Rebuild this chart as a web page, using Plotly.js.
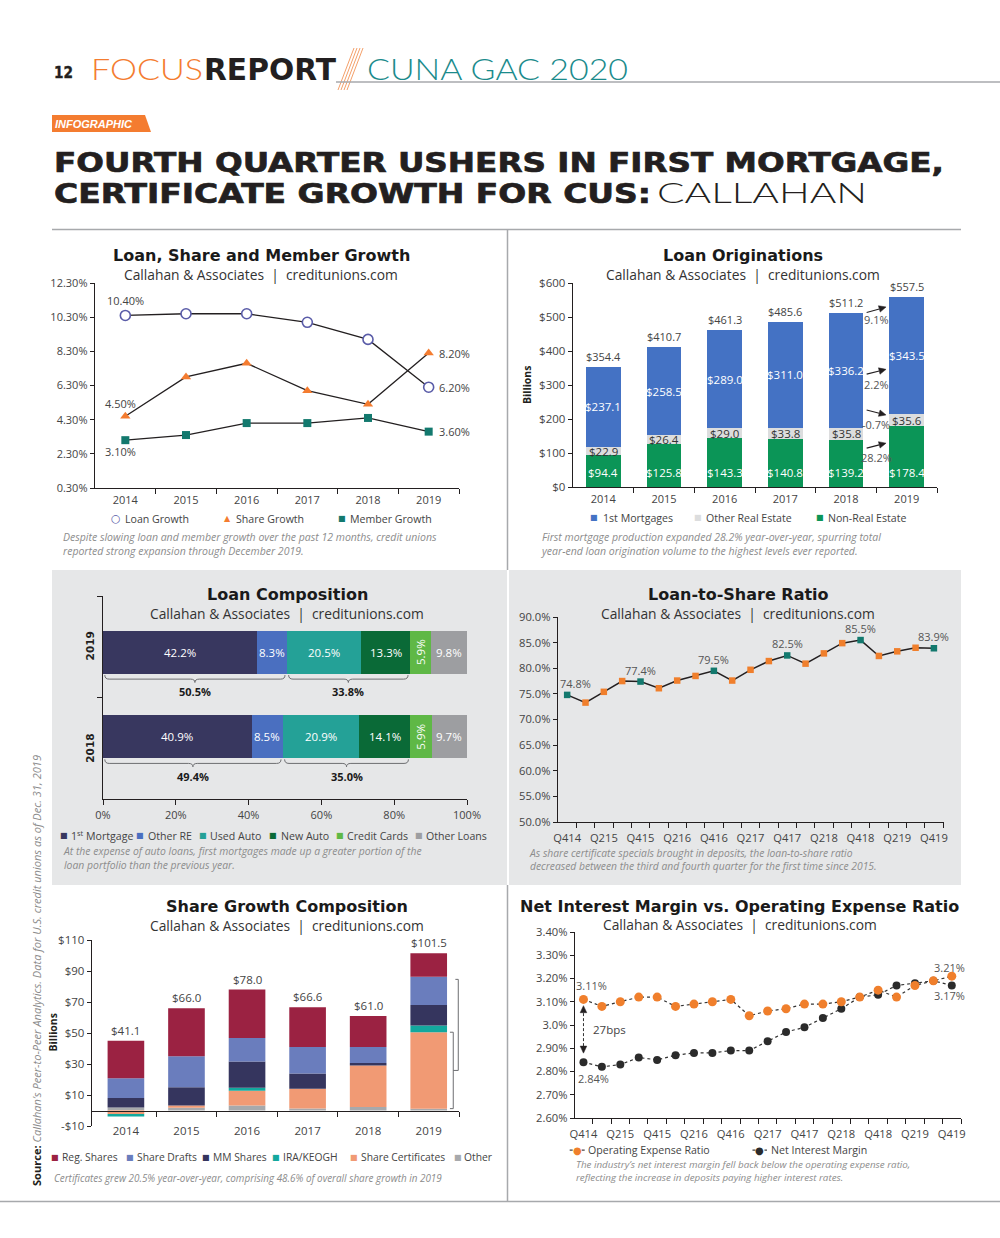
<!DOCTYPE html>
<html>
<head>
<meta charset="utf-8">
<script src="https://cdn.plot.ly/plotly-3.0.1.min.js"></script>
<style>
html,body{margin:0;padding:0;background:#fff;}
body{width:1000px;height:1238px;position:relative;overflow:hidden;}
.chart{position:absolute;}
#row2{position:absolute;left:52px;top:570px;width:909px;height:315px;background:#e6e7e8;}
#row2gap{position:absolute;left:507px;top:570px;width:2px;height:315px;background:#fff;}
#deco{position:absolute;left:0;top:0;}
</style>
</head>
<body>
<div id="row2"></div><div id="row2gap"></div>
<svg id="deco" width="1000" height="1238">
 <text x="54" y="78.3" font-family="DejaVu Sans" font-weight="bold" font-size="15.5" fill="#231f20" stroke="#231f20" stroke-width="0.4" textLength="19" lengthAdjust="spacingAndGlyphs">12</text>
 <text x="91" y="80" font-family="Lato" font-weight="300" font-size="30" fill="#f47c30" textLength="112" lengthAdjust="spacingAndGlyphs">FOCUS</text>
 <text x="204" y="80" font-family="DejaVu Sans" font-weight="bold" font-size="30" fill="#231f20" textLength="132" lengthAdjust="spacingAndGlyphs">REPORT</text>
 <g stroke="#f4a06a" stroke-width="1">
  <line x1="338" y1="90" x2="354" y2="48"/>
  <line x1="341" y1="90" x2="357" y2="48"/>
  <line x1="344" y1="90" x2="360" y2="48"/>
  <line x1="347" y1="90" x2="363" y2="48"/>
 </g>
 <text x="367" y="80" font-family="Lato" font-weight="300" font-size="30" fill="#1b8b8c" textLength="261" lengthAdjust="spacingAndGlyphs">CUNA GAC 2020</text>
 <line x1="336" y1="82" x2="1000" y2="82" stroke="#a7a9ac" stroke-width="1.5"/>
 <polygon points="52,115 145,115 151,132 52,132" fill="#f47c30"/>
 <text x="55" y="128" font-family="Liberation Sans" font-weight="bold" font-style="italic" font-size="11.5" fill="#fff" textLength="77" lengthAdjust="spacingAndGlyphs">INFOGRAPHIC</text>
 <text x="54" y="172" font-family="DejaVu Sans" font-weight="bold" font-size="26.5" fill="#231f20" stroke="#231f20" stroke-width="0.7" textLength="890" lengthAdjust="spacingAndGlyphs">FOURTH QUARTER USHERS IN FIRST MORTGAGE,</text>
 <text x="54" y="203" font-family="DejaVu Sans" font-weight="bold" font-size="26.5" fill="#231f20" stroke="#231f20" stroke-width="0.7" textLength="597" lengthAdjust="spacingAndGlyphs">CERTIFICATE GROWTH FOR CUS:</text>
 <text x="657" y="203" font-family="Lato" font-weight="300" font-size="27.5" fill="#231f20" textLength="210" lengthAdjust="spacingAndGlyphs">CALLAHAN</text>
 <line x1="52" y1="229.5" x2="961" y2="229.5" stroke="#a7a9ac" stroke-width="1.5"/>
 <line x1="507.5" y1="229.5" x2="507.5" y2="570" stroke="#a7a9ac" stroke-width="1.5"/>
 <line x1="507.5" y1="885" x2="507.5" y2="1201" stroke="#a7a9ac" stroke-width="1.5"/>
 <line x1="0" y1="1201.5" x2="1000" y2="1201.5" stroke="#a7a9ac" stroke-width="1.5"/>
 <text transform="translate(41,1186) rotate(-90)" font-family="Open Sans" font-size="10.5" font-style="italic" fill="#8a8a8a" textLength="431" lengthAdjust="spacingAndGlyphs"><tspan font-weight="bold" font-style="normal" fill="#231f20">Source:</tspan> Callahan’s Peer-to-Peer Analytics. Data for U.S. credit unions as of Dec. 31, 2019</text>
</svg>
<div id="c1" class="chart"></div>
<div id="c2" class="chart"></div>
<div id="c3" class="chart"></div>
<div id="c4" class="chart"></div>
<div id="c5" class="chart"></div>
<div id="c6" class="chart"></div>
<script>
// ================= DATA =================
const years = ['2014','2015','2016','2017','2018','2019'];

// Loan, Share and Member Growth (%)
const loanGrowth   = [10.4, 10.5, 10.5, 10.0, 9.0, 6.2];
const shareGrowth  = [4.5, 6.8, 7.6, 6.0, 5.2, 8.2];
const memberGrowth = [3.1, 3.4, 4.1, 4.1, 4.4, 3.6];
const growthTicks  = [0.3, 2.3, 4.3, 6.3, 8.3, 10.3, 12.3];

// Loan Originations ($B)
const firstMortgages    = [237.1, 258.5, 289.0, 311.0, 336.2, 343.5];
const otherRealEstate   = [22.9, 26.4, 29.0, 33.8, 35.8, 35.6];
const nonRealEstate     = [94.4, 125.8, 143.3, 140.8, 139.2, 178.4];
const originationTotals = [354.4, 410.7, 461.3, 485.6, 511.2, 557.5];
const originationTicks  = [0, 100, 200, 300, 400, 500, 600];
const originationChanges = ['9.1%', '2.2%', '-0.7%', '28.2%'];

// Loan Composition (%)
const compYears      = ['2019', '2018'];
const compCategories = ['1<sup>st</sup> Mortgage', 'Other RE', 'Used Auto', 'New Auto', 'Credit Cards', 'Other Loans'];
const comp2019       = [42.2, 8.3, 20.5, 13.3, 5.9, 9.8];
const comp2018       = [40.9, 8.5, 20.9, 14.1, 5.9, 9.7];
const compGroups2019 = [50.5, 33.8];
const compGroups2018 = [49.4, 35.0];
const compTicks      = [0, 20, 40, 60, 80, 100];

// Loan-to-Share Ratio (%)
const quarters = ['Q414','Q115','Q215','Q315','Q415','Q116','Q216','Q316','Q416','Q117','Q217','Q317','Q417','Q118','Q218','Q318','Q418','Q119','Q219','Q319','Q419'];
const loanToShare = [74.8, 73.3, 75.4, 77.5, 77.4, 76.1, 77.6, 78.5, 79.5, 77.6, 79.7, 81.4, 82.5, 80.9, 82.9, 84.9, 85.5, 82.4, 83.3, 84.0, 83.9];
const ltsTicks = [50, 55, 60, 65, 70, 75, 80, 85, 90];

// Share Growth Composition ($B)
const regShares         = [24.2, 31.0, 31.3, 25.7, 20.1, 15.2];
const shareDrafts       = [12.7, 20.0, 15.1, 17.0, 10.3, 18.3];
const mmShares          = [6.2, 11.8, 17.0, 9.9, 1.5, 13.2];
const iraKeogh          = [-1.7, 0.0, 1.9, 0.0, 0.0, 4.3];
const shareCertificates = [-2.2, 1.5, 9.5, 12.7, 26.9, 49.3];
const otherShares       = [1.9, 1.7, 3.2, 1.3, 2.2, 1.2];
const shareTotals       = [41.1, 66.0, 78.0, 66.6, 61.0, 101.5];
const shareTicks        = [-10, 10, 30, 50, 70, 90, 110];

// Net Interest Margin vs Operating Expense Ratio (%)
const operatingExpenseRatio = [3.11, 3.08, 3.10, 3.12, 3.12, 3.08, 3.09, 3.10, 3.11, 3.04, 3.06, 3.07, 3.09, 3.09, 3.10, 3.12, 3.15, 3.12, 3.17, 3.19, 3.21];
const netInterestMargin     = [2.84, 2.82, 2.83, 2.86, 2.85, 2.87, 2.88, 2.88, 2.89, 2.89, 2.93, 2.97, 2.99, 3.03, 3.07, 3.12, 3.13, 3.17, 3.18, 3.19, 3.17];
const nimTicks    = [2.6, 2.7, 2.8, 2.9, 3.0, 3.1, 3.2, 3.3, 3.4];
const nimTickText = ['2.60%', '2.70%', '2.80%', '2.90%', '3.0%', '3.10%', '3.20%', '3.30%', '3.40%'];

// ================= HELPERS =================
const FONT  = "Open Sans, DejaVu Sans, sans-serif";
const TFONT = "DejaVu Sans, sans-serif";
const INK = '#231f20';
const CAP = '#8c8c8c';
const f = (size, color, family) => ({family: family || FONT, size: size, color: color || '#444'});

function setup(id, box, plot) {
  const el = document.getElementById(id);
  el.style.left = box.l + 'px'; el.style.top = box.t + 'px';
  el.style.width = box.w + 'px'; el.style.height = box.h + 'px';
  const px = x => (x - plot.l) / (plot.r - plot.l);
  const py = y => (plot.b - y) / (plot.b - plot.t);
  const layout = {
    width: box.w, height: box.h, autosize: false,
    margin: {l: plot.l - box.l, r: box.l + box.w - plot.r, t: plot.t - box.t, b: box.t + box.h - plot.b, pad: 0},
    paper_bgcolor: 'rgba(0,0,0,0)', plot_bgcolor: 'rgba(0,0,0,0)',
    showlegend: false, font: f(11), annotations: [], shapes: [], hovermode: false
  };
  const A = (text, x, y, o) => layout.annotations.push(Object.assign({xref: 'paper', yref: 'paper', x: px(x), y: py(y), text: text, showarrow: false, xanchor: 'center', yanchor: 'middle'}, o || {}));
  const D = (o) => layout.annotations.push(Object.assign({xref: 'x', yref: 'y', showarrow: false, xanchor: 'center', yanchor: 'middle'}, o));
  return {el, layout, A, D, px, py};
}
// arrow drawn as shapes in data coords; sx, sy = pixels per data unit
function arrowHead(L, x0, y0, x1, y1, sx, sy, color) {
  const dx = (x1 - x0) * sx, dy = (y1 - y0) * sy, len = Math.hypot(dx, dy);
  const ux = dx / len, uy = dy / len, hl = 7, hw = 3.3;
  const bx = -ux * hl, by = -uy * hl, nx = -uy * hw, ny = ux * hw;
  const p1x = x1 + (bx + nx) / sx, p1y = y1 + (by + ny) / sy;
  const p2x = x1 + (bx - nx) / sx, p2y = y1 + (by - ny) / sy;
  L.shapes.push({type: 'path', xref: 'x', yref: 'y', path: `M ${x1},${y1} L ${p1x},${p1y} L ${p2x},${p2y} Z`, fillcolor: color, line: {color: color, width: 0.5}});
  return [x1 + bx / sx, y1 + by / sy];
}
function arrow(L, x0, y0, x1, y1, sx, sy, color) {
  const e = arrowHead(L, x0, y0, x1, y1, sx, sy, color);
  L.shapes.push({type: 'path', xref: 'x', yref: 'y', path: `M ${x0},${y0} L ${e[0]},${e[1]}`, line: {color: color, width: 1.1}});
}
const axBase = () => ({showline: true, linecolor: INK, linewidth: 1.3, showgrid: false, zeroline: false,
  ticks: 'outside', ticklen: 4, tickcolor: INK, tickwidth: 1, tickfont: f(11, '#444'), fixedrange: true});
const minorB = (n) => ({tickmode: 'array', tickvals: Array.from({length: n}, (_, i) => i + 0.5), ticks: 'outside', ticklen: 5, tickcolor: INK, tickwidth: 1, showgrid: false});
function titles(c, title, sub, x, y1, y2) {
  c.A('<b>' + title + '</b>', x, y1, {font: f(16, '#1a1a1a', TFONT)});
  c.A(sub, x, y2, {font: f(13.8, '#333')});
}
function legendItem(c, sym, symColor, name, sx, tx, y, size) {
  c.A(sym, sx, y, {font: f(size || 8, symColor, TFONT)});
  c.A(name, tx, y, {xanchor: 'left', font: f(10.6, '#444')});
}
function caption(c, text, x, y, size) {
  c.A('<i>' + text + '</i>', x, y, {xanchor: 'left', align: 'left', font: f(size || 10.5, CAP)});
}
const cfg = {staticPlot: true, displayModeBar: false};
const SUB = 'Callahan &amp; Associates  |  creditunions.com';

// ================= CHART 1 =================
(function () {
  const c = setup('c1', {l: 40, t: 235, w: 468, h: 330}, {l: 95.3, r: 459.3, t: 282.7, b: 487.7});
  const L = c.layout, xi = years.map((_, i) => i);
  L.xaxis = Object.assign(axBase(), {range: [-0.5, 5.5], tickmode: 'array', tickvals: xi, ticktext: years, ticks: 'outside', ticklen: 1, tickcolor: 'rgba(0,0,0,0)', minor: minorB(6)});
  L.yaxis = Object.assign(axBase(), {range: [0.3, 12.3], tickmode: 'array', tickvals: growthTicks, ticktext: growthTicks.map(v => v.toFixed(2) + '%')});
  const ln = {color: INK, width: 1.3};
  const traces = [
    {x: xi, y: loanGrowth, mode: 'lines+markers', line: ln, cliponaxis: false, marker: {symbol: 'circle', size: 10, color: '#fff', line: {color: '#5a5ca8', width: 1.6}}},
    {x: xi, y: shareGrowth, mode: 'lines+markers', line: ln, cliponaxis: false, marker: {symbol: 'triangle-up', size: 9, color: '#f47c30'}},
    {x: xi, y: memberGrowth, mode: 'lines+markers', line: ln, cliponaxis: false, marker: {symbol: 'square', size: 8, color: '#13796e'}}
  ];
  titles(c, 'Loan, Share and Member Growth', SUB, 261.5, 255, 274.5);
  const pf = v => v.toFixed(2) + '%';
  const lf = f(11, '#444');
  c.D({x: 0, y: loanGrowth[0], text: pf(loanGrowth[0]), yshift: 15, font: lf});
  c.D({x: 0, y: shareGrowth[0], text: pf(shareGrowth[0]), yshift: 13, xshift: -5, font: lf});
  c.D({x: 0, y: memberGrowth[0], text: pf(memberGrowth[0]), yshift: -11, xshift: -5, font: lf});
  c.D({x: 5, y: shareGrowth[5], text: pf(shareGrowth[5]), xanchor: 'left', xshift: 8, font: lf});
  c.D({x: 5, y: loanGrowth[5], text: pf(loanGrowth[5]), xanchor: 'left', xshift: 8, font: lf});
  c.D({x: 5, y: memberGrowth[5], text: pf(memberGrowth[5]), xanchor: 'left', xshift: 8, font: lf});
  legendItem(c, '○', '#5a5ca8', 'Loan Growth', 116, 123, 518.3, 11);
  legendItem(c, '▲', '#f47c30', 'Share Growth', 228, 234, 518.3, 8);
  legendItem(c, '■', '#13796e', 'Member Growth', 342.5, 348.3, 518.3, 8);
  caption(c, 'Despite slowing loan and member growth over the past 12 months, credit unions<br>reported strong expansion through December 2019.', 61, 544, 10.5);
  Plotly.newPlot(c.el, traces, L, cfg);
})();

// ================= CHART 2 =================
(function () {
  const c = setup('c2', {l: 508, t: 235, w: 454, h: 330}, {l: 573, r: 937, t: 282.7, b: 487.3});
  const L = c.layout, xi = years.map((_, i) => i);
  L.barmode = 'stack';
  L.xaxis = Object.assign(axBase(), {range: [-0.5, 5.5], tickmode: 'array', tickvals: xi, ticktext: years, ticks: 'outside', ticklen: 1, tickcolor: 'rgba(0,0,0,0)', minor: minorB(6)});
  L.yaxis = Object.assign(axBase(), {range: [0, 600], tickmode: 'array', tickvals: originationTicks, ticktext: originationTicks.map(v => '$' + v), tickfont: f(11.5, '#444')});
  const W = 0.57;
  const traces = [
    {type: 'bar', x: xi, y: nonRealEstate, width: W, marker: {color: '#0b9557'}, name: 'Non-Real Estate'},
    {type: 'bar', x: xi, y: otherRealEstate, width: W, marker: {color: '#dcddde'}, name: 'Other Real Estate'},
    {type: 'bar', x: xi, y: firstMortgages, width: W, marker: {color: '#4472c4'}, name: '1st Mortgages'}
  ];
  titles(c, 'Loan Originations', SUB, 742.8, 255.5, 274.5);
  c.A('<b>Billions</b>', 527, 385, {textangle: -90, font: f(10.5, INK)});
  xi.forEach(i => {
    const g = nonRealEstate[i], o = otherRealEstate[i], b = firstMortgages[i];
    c.D({x: i, y: g + o + b / 2, text: '$' + b.toFixed(1), font: f(11.5, '#fff')});
    c.D({x: i, y: g + o / 2, text: '$' + o.toFixed(1), font: f(11.5, '#333')});
    c.D({x: i, y: 0, yanchor: 'bottom', yshift: 5, text: '$' + g.toFixed(1), font: f(11.5, '#fff')});
    c.D({x: i, y: originationTotals[i], yanchor: 'bottom', yshift: 1, text: '$' + originationTotals[i].toFixed(1), font: f(11, '#444')});
  });
  // year-over-year change arrows (2018 -> 2019)
  const sx = 364 / 6, sy = 204.6 / 600;
  const arr = [[513, 529.5, 492.6], [332, 346, 302], [226.6, 212, 184.7], [114.3, 129, 86.8]];
  arr.forEach((a, k) => {
    arrow(L, 4.34, a[0], 4.66, a[1], sx, sy, INK);
    c.D({x: 4.5, y: a[2], text: originationChanges[k], font: f(11, '#555')});
  });
  legendItem(c, '■', '#4472c4', '1st Mortgages', 594, 600.7, 518.3);
  legendItem(c, '■', '#dcddde', 'Other Real Estate', 697.5, 704, 518.3);
  legendItem(c, '■', '#0b9557', 'Non-Real Estate', 820, 826, 518.3);
  caption(c, 'First mortgage production expanded 28.2% year-over-year, spurring total<br>year-end loan origination volume to the highest levels ever reported.', 538, 544, 10.5);
  Plotly.newPlot(c.el, traces, L, cfg);
})();

// ================= CHART 3 =================
(function () {
  const c = setup('c3', {l: 52, t: 570, w: 455, h: 315}, {l: 103.3, r: 466.7, t: 596, b: 799});
  const L = c.layout;
  L.barmode = 'stack';
  L.xaxis = Object.assign(axBase(), {range: [0, 100], tickmode: 'array', tickvals: compTicks, ticktext: compTicks.map(v => v + '%'), ticklen: 5});
  L.yaxis = Object.assign(axBase(), {range: [-0.739, 1.669], tickmode: 'array', tickvals: [], ticks: '', showticklabels: false,
    minor: {tickmode: 'array', tickvals: [0.463, 1.665], ticks: 'outside', ticklen: 5, tickcolor: INK, tickwidth: 1, showgrid: false}});
  const colors = ['#38375f', '#4a6fc0', '#24a197', '#0a6a37', '#5fb846', '#9d9ea1'];
  const yv = [1, 0], BW = 0.514;
  const traces = compCategories.map((name, k) => ({type: 'bar', orientation: 'h', y: yv, x: [comp2019[k], comp2018[k]], width: BW, marker: {color: colors[k]}, name: name}));
  titles(c, 'Loan Composition', SUB, 287.4, 594.3, 613.3);
  [comp2019, comp2018].forEach((vals, r) => {
    let cum = 0;
    vals.forEach((v, k) => {
      const o = {x: cum + v / 2, y: yv[r], text: v.toFixed(1) + '%', font: f(11.5, '#fff')};
      if (k === 4) o.textangle = -90;
      c.D(o); cum += v;
    });
    c.D({x: 0, y: yv[r], xshift: -13, yshift: r === 0 ? 6 : -12, text: '<b>' + compYears[r] + '</b>', textangle: -90, font: f(10.5, INK, TFONT)});
  });
  function brace(x0, x1, yb) {
    const yT = yb - 0.012, yM = yb - 0.06, yP = yb - 0.1, xc = (x0 + x1) / 2, d = 1.2;
    return `M ${x0},${yT} Q ${x0},${yM} ${x0 + d},${yM} L ${xc - d},${yM} Q ${xc},${yM} ${xc},${yP} Q ${xc},${yM} ${xc + d},${yM} L ${x1 - d},${yM} Q ${x1},${yM} ${x1},${yT}`;
  }
  [compGroups2019, compGroups2018].forEach((grp, r) => {
    const yb = yv[r] - BW / 2;
    const g0 = [0, grp[0]], g1 = [grp[0], grp[0] + grp[1]];
    [g0, g1].forEach((g, k) => {
      L.shapes.push({type: 'path', xref: 'x', yref: 'y', path: brace(g[0] + 0.5, g[1] - 0.5, yb), line: {color: '#6d6e71', width: 1}});
      c.D({x: (g[0] + g[1]) / 2, y: yb, yshift: r === 0 ? -17 : -18, text: '<b>' + grp[k].toFixed(1) + '%</b>', font: f(11, '#1a1a1a')});
    });
  });
  const lx = [[64, 69], [140.5, 146], [203.5, 208.5], [273, 279], [339.5, 345], [418.5, 424]];
  compCategories.forEach((n, k) => legendItem(c, '■', colors[k], n, lx[k][0], lx[k][1], 835.7));
  caption(c, 'At the expense of auto loans, first mortgages made up a greater portion of the<br>loan portfolio than the previous year.', 61, 857.5, 10.4);
  Plotly.newPlot(c.el, traces, L, cfg);
})();

// ================= CHART 4 =================
(function () {
  const c = setup('c4', {l: 509, t: 570, w: 452, h: 315}, {l: 558.3, r: 944.3, t: 616.7, b: 822.3});
  const L = c.layout, xi = quarters.map((_, i) => i);
  const tv = xi.filter(i => i % 2 === 0);
  L.xaxis = Object.assign(axBase(), {range: [-0.5, 20.55], tickmode: 'array', tickvals: tv, ticktext: tv.map(i => quarters[i]), ticks: 'outside', ticklen: 5, tickcolor: 'rgba(0,0,0,0)', minor: minorB(21), tickfont: f(11.2, '#444')});
  L.yaxis = Object.assign(axBase(), {range: [50, 90], tickmode: 'array', tickvals: ltsTicks, ticktext: ltsTicks.map(v => v.toFixed(1) + '%'), tickfont: f(11.2, '#444')});
  const isQ4 = quarters.map(q => q.startsWith('Q4'));
  const traces = [{x: xi, y: loanToShare, mode: 'lines+markers', cliponaxis: false, line: {color: INK, width: 1.5},
    marker: {symbol: 'square', size: 6.5, color: isQ4.map(b => b ? '#13796e' : '#f07f2c')}}];
  titles(c, 'Loan-to-Share Ratio', SUB, 738.3, 594.3, 613.3);
  xi.forEach(i => { if (isQ4[i]) c.D({x: i, y: loanToShare[i], yanchor: 'bottom', yshift: 2, xshift: i === 0 ? 8 : 0, text: loanToShare[i].toFixed(1) + '%', font: f(11, '#555')}); });
  caption(c, 'As share certificate specials brought in deposits, the loan-to-share ratio<br>decreased between the third and fourth quarter for the first time since 2015.', 527, 859.5, 10.3);
  Plotly.newPlot(c.el, traces, L, cfg);
})();

// ================= CHART 5 =================
(function () {
  const c = setup('c5', {l: 44, t: 888, w: 464, h: 312}, {l: 91.7, r: 459.3, t: 940, b: 1125.7});
  const L = c.layout, xi = years.map((_, i) => i);
  L.barmode = 'relative';
  L.xaxis = Object.assign(axBase(), {range: [-0.56, 5.5], anchor: 'free', position: 10 / 120, tickmode: 'array', tickvals: xi, ticktext: years, ticks: 'outside', ticklen: 9, tickcolor: 'rgba(0,0,0,0)', minor: minorB(6), tickfont: f(11.5, '#444')});
  L.yaxis = Object.assign(axBase(), {range: [-10, 110], tickmode: 'array', tickvals: shareTicks, ticktext: shareTicks.map(v => (v < 0 ? '-$' : '$') + Math.abs(v)), tickfont: f(11.5, '#444')});
  const W = 0.605;
  const series = [
    ['Other', otherShares, '#a7a9ac'],
    ['Share Certificates', shareCertificates, '#f19a74'],
    ['IRA/KEOGH', iraKeogh, '#13a89e'],
    ['MM Shares', mmShares, '#35355e'],
    ['Share Drafts', shareDrafts, '#6a7dbd'],
    ['Reg. Shares', regShares, '#9b2242']
  ];
  const traces = series.map(s => ({type: 'bar', x: xi, y: s[1], width: W, marker: {color: s[2]}, name: s[0]}));
  titles(c, 'Share Growth Composition', SUB, 287.5, 906.7, 925.3);
  c.A('<b>Billions</b>', 53, 1032, {textangle: -90, font: f(10.5, INK)});
  xi.forEach(i => {
    const pos = series.reduce((a, s) => a + Math.max(0, s[1][i]), 0);
    c.D({x: i, y: pos, yanchor: 'bottom', yshift: 1, text: '$' + shareTotals[i].toFixed(1), font: f(11.5, '#444')});
  });
  // certificates share bracket on 2019
  const c0 = otherShares[5], c1 = otherShares[5] + shareCertificates[5], cm = (c0 + c1) / 2;
  L.shapes.push({type: 'path', xref: 'x', yref: 'y', path: `M 5.35,${c1} L 5.405,${c1} L 5.405,${c0} L 5.35,${c0}`, line: {color: '#6d6e71', width: 1}});
  L.shapes.push({type: 'path', xref: 'x', yref: 'y', path: `M 5.405,${cm} L 5.488,${cm} L 5.488,84.6 L 5.44,84.6`, line: {color: '#6d6e71', width: 1}});
  c.D({x: 5.57, y: 91.1, text: Math.round(shareCertificates[5] / shareTotals[5] * 100) + '%', font: f(11, '#555')});
  const lx = [[55, 60], [129.5, 134.3], [206, 210.7], [276.5, 281], [354.5, 359], [458, 462.7]];
  series.slice().reverse().forEach((s, k) => {
    c.A('■', lx[k][0], 1156.7, {font: f(8, s[2], TFONT)});
    c.A(s[0], lx[k][1], 1156.7, {xanchor: 'left', font: f(10.3, '#444')});
  });
  caption(c, 'Certificates grew 20.5% year-over-year, comprising 48.6% of overall share growth in 2019', 52, 1177.5, 9.9);
  Plotly.newPlot(c.el, traces, L, cfg);
})();

// ================= CHART 6 =================
(function () {
  const c = setup('c6', {l: 509, t: 888, w: 480, h: 312}, {l: 575.3, r: 960.7, t: 932.3, b: 1118});
  const L = c.layout, xi = quarters.map((_, i) => i);
  const tv = xi.filter(i => i % 2 === 0);
  L.xaxis = Object.assign(axBase(), {range: [-0.46, 20.5], tickmode: 'array', tickvals: tv, ticktext: tv.map(i => quarters[i]), ticks: 'outside', ticklen: 5, tickcolor: 'rgba(0,0,0,0)', minor: minorB(21), tickfont: f(11.2, '#444')});
  L.yaxis = Object.assign(axBase(), {range: [2.6, 3.4], tickmode: 'array', tickvals: nimTicks, ticktext: nimTickText, tickfont: f(11.2, '#444')});
  const dl = {color: '#333', width: 1.2, dash: 'dot'};
  const traces = [
    {x: xi, y: netInterestMargin, mode: 'lines+markers', line: dl, cliponaxis: false, marker: {size: 8, color: '#2b2b2b'}, name: 'Net Interest Margin'},
    {x: xi, y: operatingExpenseRatio, mode: 'lines+markers', line: dl, cliponaxis: false, marker: {size: 9, color: '#f07f2c'}, name: 'Operating Expense Ratio'}
  ];
  titles(c, 'Net Interest Margin vs. Operating Expense Ratio', SUB, 739.7, 906.7, 925.3);
  const lf = f(11, '#555');
  const n = xi.length - 1;
  c.D({x: 0, y: operatingExpenseRatio[0], yshift: 14, xshift: 8, text: operatingExpenseRatio[0].toFixed(2) + '%', font: lf});
  c.D({x: 0, y: netInterestMargin[0], yshift: -16, xshift: 10, text: netInterestMargin[0].toFixed(2) + '%', font: lf});
  c.D({x: n, y: operatingExpenseRatio[n], yshift: 9, xshift: -2, text: operatingExpenseRatio[n].toFixed(2) + '%', font: lf});
  c.D({x: n, y: netInterestMargin[n], yshift: -10, xshift: -2, text: netInterestMargin[n].toFixed(2) + '%', font: lf});
  // spread between the two series at Q414
  const sx = 385.4 / 20.96, sy = 185.7 / 0.8;
  const top = operatingExpenseRatio[0] - 0.027, bot = netInterestMargin[0] + 0.039;
  const e1 = arrowHead(L, 0, bot, 0, top, sx, sy, INK);
  const e2 = arrowHead(L, 0, top, 0, bot, sx, sy, INK);
  L.shapes.push({type: 'line', xref: 'x', yref: 'y', x0: 0, x1: 0, y0: e2[1], y1: e1[1], line: {color: '#333', width: 1, dash: '3px,2px'}});
  c.D({x: 0, y: (top + bot) / 2, xanchor: 'left', xshift: 8, text: Math.round((operatingExpenseRatio[0] - netInterestMargin[0]) * 100) + 'bps', font: f(11.5, '#444')});
  // legend: dotted line + marker
  [[570, 585, '#f07f2c', 'Operating Expense Ratio', 586.5], [752.5, 767, '#2b2b2b', 'Net Interest Margin', 768.5]].forEach(it => {
    L.shapes.push({type: 'line', xref: 'paper', yref: 'paper', x0: c.px(it[0]), x1: c.px(it[1]), y0: c.py(1150), y1: c.py(1150), line: {color: '#444', width: 1.2, dash: 'dot'}});
    c.A('●', (it[0] + it[1]) / 2, 1150, {font: f(10, it[2], TFONT)});
    c.A(it[3], it[4], 1150, {xanchor: 'left', font: f(10.6, '#444')});
  });
  caption(c, 'The industry’s net interest margin fell back below the operating expense ratio,<br>reflecting the increase in deposits paying higher interest rates.', 574, 1171, 9.8);
  Plotly.newPlot(c.el, traces, L, cfg);
})();
</script>
</body>
</html>
